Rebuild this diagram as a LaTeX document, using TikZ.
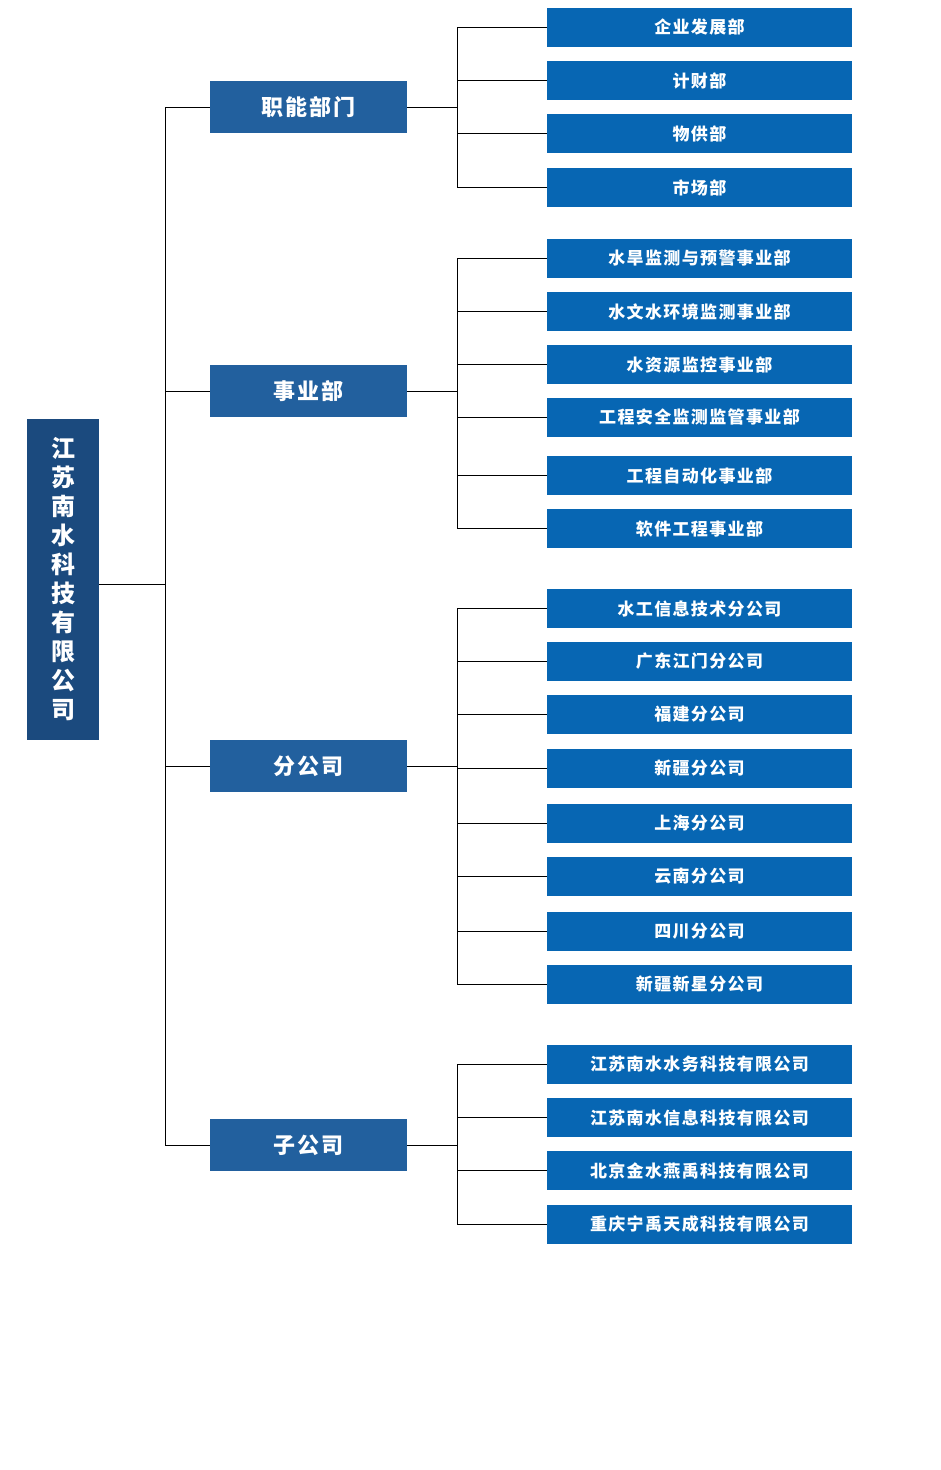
\documentclass[tikz,border=0pt]{standalone}
\usepackage{fontspec}
\setmainfont{Noto Sans CJK SC}
\newfontfamily\cjkb{Noto Sans CJK SC}[LetterSpace=8]
\definecolor{rootc}{HTML}{1B4A7E}
\definecolor{midc}{HTML}{22609E}
\definecolor{leafc}{HTML}{0766B3}
\begin{document}
\begin{tikzpicture}[x=1pt,y=-1pt,
  rootbox/.style={fill=rootc,text=white,minimum width=72pt,minimum height=321pt,inner sep=0pt,align=center,font=\cjkb\bfseries\fontsize{24}{29}\selectfont},
  midbox/.style={fill=midc,text=white,minimum width=197pt,minimum height=52pt,inner sep=0pt,font=\cjkb\bfseries\fontsize{22}{24}\selectfont},
  leafbox/.style={fill=leafc,text=white,minimum width=305pt,minimum height=39pt,inner sep=0pt,font=\cjkb\bfseries\fontsize{17}{20}\selectfont},
  conn/.style={draw=black,line width=0.8pt}]
\useasboundingbox[fill=white] (0,0) rectangle (940,1470);
\node[rootbox] (root) at (63,579.5) {江\\苏\\南\\水\\科\\技\\有\\限\\公\\司};
\coordinate (sp) at (165,584);
\draw[conn] (root.east |- sp) -- (sp);
\coordinate (vt) at (165,108); \coordinate (vb) at (165,1146);
\draw[conn] (vt) -- (vb);
\newcommand\grp[4]{% name, label, center y, list of tops:text
  \node[midbox] (#1) at (308.5,#3) {#2};
  \draw[conn] (165,#3) -- (#1.west);
  \draw[conn] (#1.east) -- (457,#3);
  \foreach \t/\s [count=\i] in {#4} {
    \node[leafbox] (#1l\i) at (699.5,\t+19.5) {\s};
    \draw[conn] (457,\t+19.5) -- (#1l\i.west);
  }
}
\grp{a}{职能部门}{107}{8/企业发展部,61/计财部,114/物供部,168/市场部}
\draw[conn] (457,27.5) -- (457,187.5);
\grp{b}{事业部}{391}{239/水旱监测与预警事业部,292/水文水环境监测事业部,345/水资源监控事业部,398/工程安全监测监管事业部,456/工程自动化事业部,509/软件工程事业部}
\draw[conn] (457,258.5) -- (457,528.5);
\grp{c}{分公司}{766}{589/水工信息技术分公司,642/广东江门分公司,695/福建分公司,749/新疆分公司,804/上海分公司,857/云南分公司,912/四川分公司,965/新疆新星分公司}
\draw[conn] (457,608.5) -- (457,984.5);
\grp{d}{子公司}{1145}{1045/江苏南水水务科技有限公司,1098/江苏南水信息科技有限公司,1151/北京金水燕禹科技有限公司,1205/重庆宁禹天成科技有限公司}
\draw[conn] (457,1064.5) -- (457,1224.5);
\end{tikzpicture}
\end{document}
